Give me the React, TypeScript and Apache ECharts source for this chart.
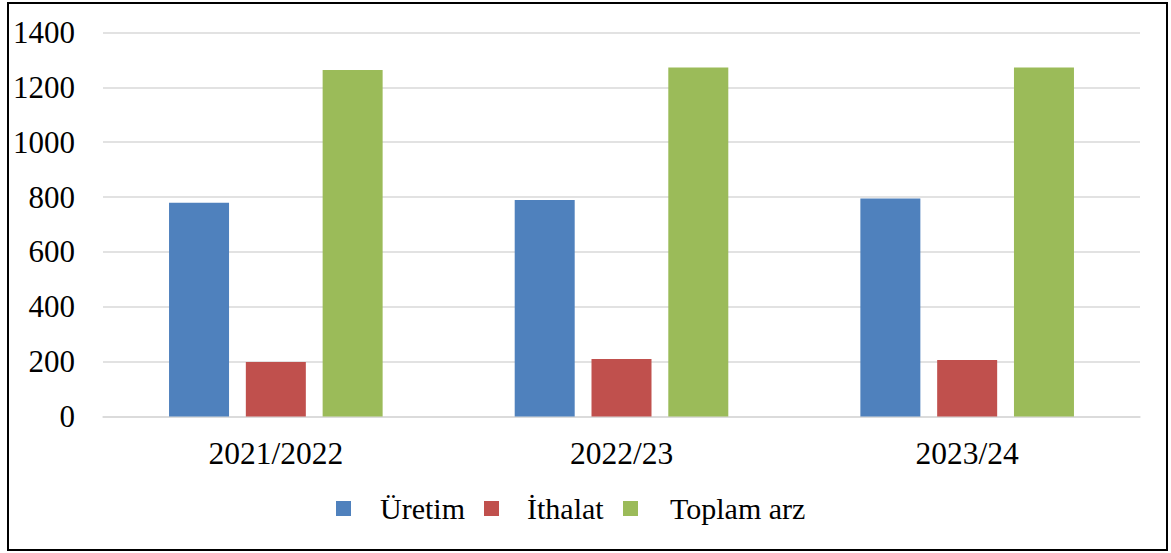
import React, { useEffect, useRef } from "react";
import * as echarts from "echarts";

const categories = ["2021/2022", "2022/23", "2023/24"];
const uretim = [779, 789, 795];
const ithalat = [199, 210, 206];
const toplamArz = [1263, 1272, 1272];
const seriesNames = ["Üretim", "İthalat", "Toplam arz"];
const colors = ["#4F81BD", "#C0504D", "#9BBB59"];

// legend layout (pixels)
const legendSquareX = [336, 484, 623];
const legendTextX = [380, 527, 670];
const legendY = 508.5;

export default function App() {
  const ref = useRef<HTMLDivElement>(null);
  useEffect(() => {
    if (!ref.current) return;
    const chart = echarts.init(ref.current, null, { renderer: "svg" });
    const font = "'Liberation Serif', 'Times New Roman', serif";
    const data = [uretim, ithalat, toplamArz];
    const legendGraphics: any[] = [];
    seriesNames.forEach((name, i) => {
      legendGraphics.push({
        type: "rect",
        shape: { x: legendSquareX[i], y: legendY - 7.5, width: 15, height: 15 },
        style: { fill: colors[i] },
      });
      legendGraphics.push({
        type: "text",
        x: legendTextX[i],
        y: legendY,
        style: {
          text: name,
          font: "30px " + font,
          fontFamily: font,
          fontSize: 30,
          fill: "#000",
          textAlign: "left",
          textVerticalAlign: "middle",
          verticalAlign: "middle",
        },
      });
    });
    chart.setOption({
      animation: false,
      backgroundColor: "#ffffff",
      textStyle: { fontFamily: font },
      grid: { left: 103, right: 31, top: 32.5, bottom: 136.5 },
      xAxis: {
        type: "category",
        data: categories,
        axisTick: { show: false },
        axisLine: { show: true, lineStyle: { color: "#d9d9d9", width: 1.5 } },
        axisLabel: { fontFamily: font, fontSize: 31.5, color: "#000", margin: 21 },
      },
      yAxis: {
        type: "value",
        min: 0,
        max: 1400,
        interval: 200,
        axisLine: { show: false },
        axisTick: { show: false },
        splitLine: { lineStyle: { color: "#d9d9d9", width: 1.5 } },
        axisLabel: {
          fontFamily: font,
          fontSize: 31,
          color: "#000",
          margin: 28,
          formatter: (v: number) => String(v),
        },
      },
      graphic: [
        {
          type: "rect",
          shape: { x: 8, y: 3, width: 1159, height: 547 },
          style: { fill: "none", stroke: "#000", lineWidth: 2 },
          z: 100,
        },
        ...legendGraphics,
      ],
      series: seriesNames.map((name, i) => ({
        name,
        type: "bar",
        data: data[i],
        barWidth: 60,
        barGap: "28%",
        itemStyle: { color: colors[i] },
      })),
    });
    return () => chart.dispose();
  }, []);
  return (
    <div
      ref={ref}
      style={{ position: "absolute", left: 0, top: 0, width: 1171, height: 553 }}
    />
  );
}
